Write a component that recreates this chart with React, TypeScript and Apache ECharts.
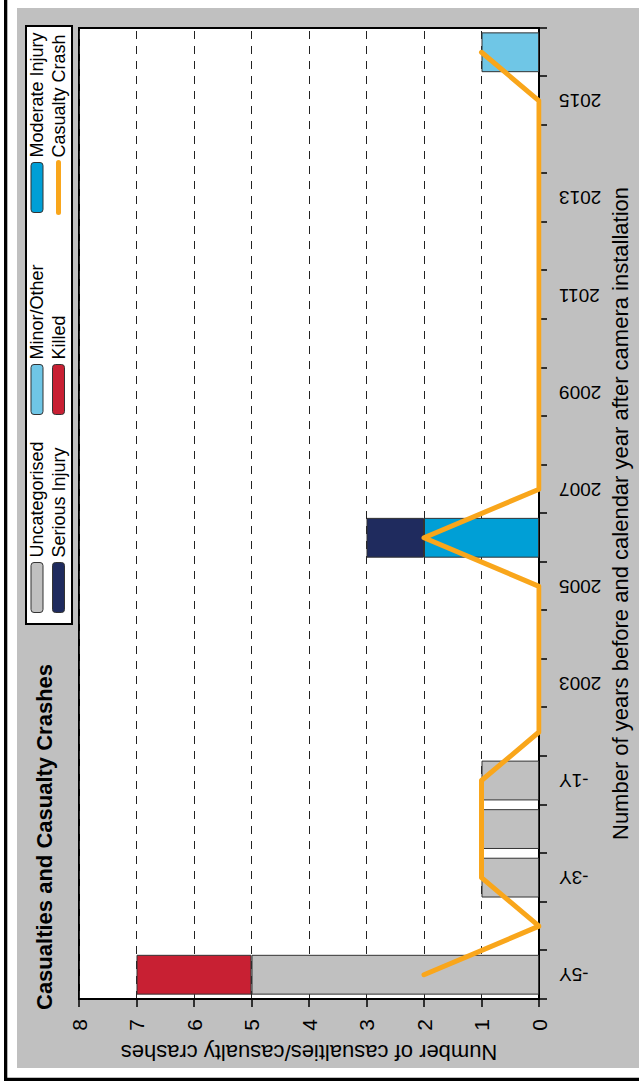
import React, { useEffect, useRef } from "react";
import * as echarts from "echarts";

const categories = [
  "-5Y", "-4Y", "-3Y", "-2Y", "-1Y",
  "2002", "2003", "2004", "2005", "2006", "2007", "2008", "2009",
  "2010", "2011", "2012", "2013", "2014", "2015", "2016",
];
const uncategorised = [5, 0, 1, 1, 1, 0, 0, 0, 0, 0, 0, 0, 0, 0, 0, 0, 0, 0, 0, 0];
const minorOther = [0, 0, 0, 0, 0, 0, 0, 0, 0, 0, 0, 0, 0, 0, 0, 0, 0, 0, 0, 1];
const moderateInjury = [0, 0, 0, 0, 0, 0, 0, 0, 0, 2, 0, 0, 0, 0, 0, 0, 0, 0, 0, 0];
const seriousInjury = [0, 0, 0, 0, 0, 0, 0, 0, 0, 1, 0, 0, 0, 0, 0, 0, 0, 0, 0, 0];
const killed = [2, 0, 0, 0, 0, 0, 0, 0, 0, 0, 0, 0, 0, 0, 0, 0, 0, 0, 0, 0];
const casualtyCrash = [2, 0, 1, 1, 1, 0, 0, 0, 0, 2, 0, 0, 0, 0, 0, 0, 0, 0, 0, 1];

const FONT = "'Liberation Sans', Arial, sans-serif";
const ORANGE = "#f9a61b";

const nz = (a: number[]) => a.map((v) => (v === 0 ? null : v));

function barSeries(name: string, data: number[], color: string) {
  return {
    name,
    type: "bar",
    stack: "total",
    barWidth: "82%",
    data: nz(data),
    itemStyle: { color, borderColor: "#333", borderWidth: 1 },
    z: 2,
  };
}

export default function App() {
  const ref = useRef<HTMLDivElement>(null);
  useEffect(() => {
    const chart = echarts.init(ref.current!, undefined, { renderer: "svg" });
    const legendCommon = {
      orient: "vertical",
      top: 28,
      padding: 0,
      itemWidth: 50,
      itemHeight: 12,
      itemGap: 3.5,
      itemStyle: { borderColor: "#333", borderWidth: 1 },
      textStyle: { fontSize: 18, color: "#000", fontFamily: FONT },
      z: 6,
    };
    chart.setOption({
      animation: false,
      backgroundColor: "transparent",
      textStyle: { fontFamily: FONT },
      title: {
        text: "Casualties and Casualty Crashes",
        left: 80,
        top: 33,
        padding: 0,
        textStyle: { fontSize: 22, fontWeight: "bold", color: "#000", fontFamily: FONT },
      },
      graphic: {
        elements: [
          { type: "rect", z: -1, shape: { x: 22, y: 17, width: 1060, height: 622 }, style: { fill: "#c0c0c0" } },
          { type: "rect", z: -1, shape: { x: 9, y: 4, width: 1081, height: 3.3 }, style: { fill: "#000" } },
          { type: "rect", z: -1, shape: { x: 9, y: 4, width: 3.3, height: 635 }, style: { fill: "#000" } },
          { type: "rect", z: 3, shape: { x: 466, y: 26, width: 598, height: 46 }, style: { fill: "#fff", stroke: "#000", lineWidth: 2 } },
        ],
      },
      legend: [
        { ...legendCommon, left: 477, data: ["Uncategorised", "Serious Injury"] },
        { ...legendCommon, left: 675, data: ["Minor/Other", "Killed"] },
        {
          ...legendCommon,
          left: 875,
          lineStyle: { width: 5, cap: "round", color: ORANGE },
          data: [
            "Moderate Injury",
            { name: "Casualty Crash", itemStyle: { color: "rgba(0,0,0,0)", borderWidth: 0 } },
          ],
        },
      ],
      grid: {
        left: 91,
        right: 28,
        top: 79,
        bottom: 100,
        show: true,
        backgroundColor: "#fff",
        borderColor: "#000",
        borderWidth: 2,
      },
      xAxis: {
        type: "category",
        data: categories,
        boundaryGap: true,
        name: "Number of years before and calendar year after camera installation",
        nameLocation: "middle",
        nameGap: 54,
        nameTextStyle: { fontSize: 22, color: "#000", fontFamily: FONT },
        axisLine: { lineStyle: { color: "#000", width: 2 } },
        axisTick: { show: true, interval: 0, length: 8, lineStyle: { color: "#000", width: 1.5 } },
        axisLabel: { interval: 1, rotate: 90, margin: 20, fontSize: 19, color: "#000", fontFamily: FONT },
      },
      yAxis: {
        type: "value",
        min: 0,
        max: 8,
        interval: 1,
        name: "Number of casualties/casualty crashes",
        nameLocation: "middle",
        nameRotate: 90,
        nameGap: 38,
        nameTextStyle: { fontSize: 22, color: "#000", fontFamily: FONT },
        axisLine: { show: true, lineStyle: { color: "#000", width: 2 } },
        axisTick: { show: true, length: 8, lineStyle: { color: "#000", width: 1.5 } },
        axisLabel: { margin: 20, fontSize: 21, color: "#000", fontFamily: FONT },
        splitLine: { show: true, lineStyle: { type: [8, 7], color: "#222", width: 1 } },
      },
      series: [
        barSeries("Uncategorised", uncategorised, "#c0c0c0"),
        barSeries("Minor/Other", minorOther, "#6fc6e6"),
        barSeries("Moderate Injury", moderateInjury, "#009fd6"),
        barSeries("Serious Injury", seriousInjury, "#1f2b5e"),
        barSeries("Killed", killed, "#c82033"),
        {
          name: "Casualty Crash",
          type: "line",
          data: casualtyCrash,
          symbol: "none",
          lineStyle: { width: 5, color: ORANGE, cap: "round", join: "round" },
          itemStyle: { color: ORANGE },
          z: 5,
        },
      ],
    });
    return () => chart.dispose();
  }, []);
  return (
    <div
      style={{
        position: "fixed",
        left: 0,
        top: 0,
        width: 639,
        height: 1090,
        overflow: "hidden",
        background: "#fff",
      }}
    >
      <div
        ref={ref}
        style={{
          position: "absolute",
          left: 0,
          top: 0,
          width: 1090,
          height: 639,
          transformOrigin: "0 0",
          transform: "translateY(1090px) rotate(-90deg)",
        }}
      />
    </div>
  );
}
